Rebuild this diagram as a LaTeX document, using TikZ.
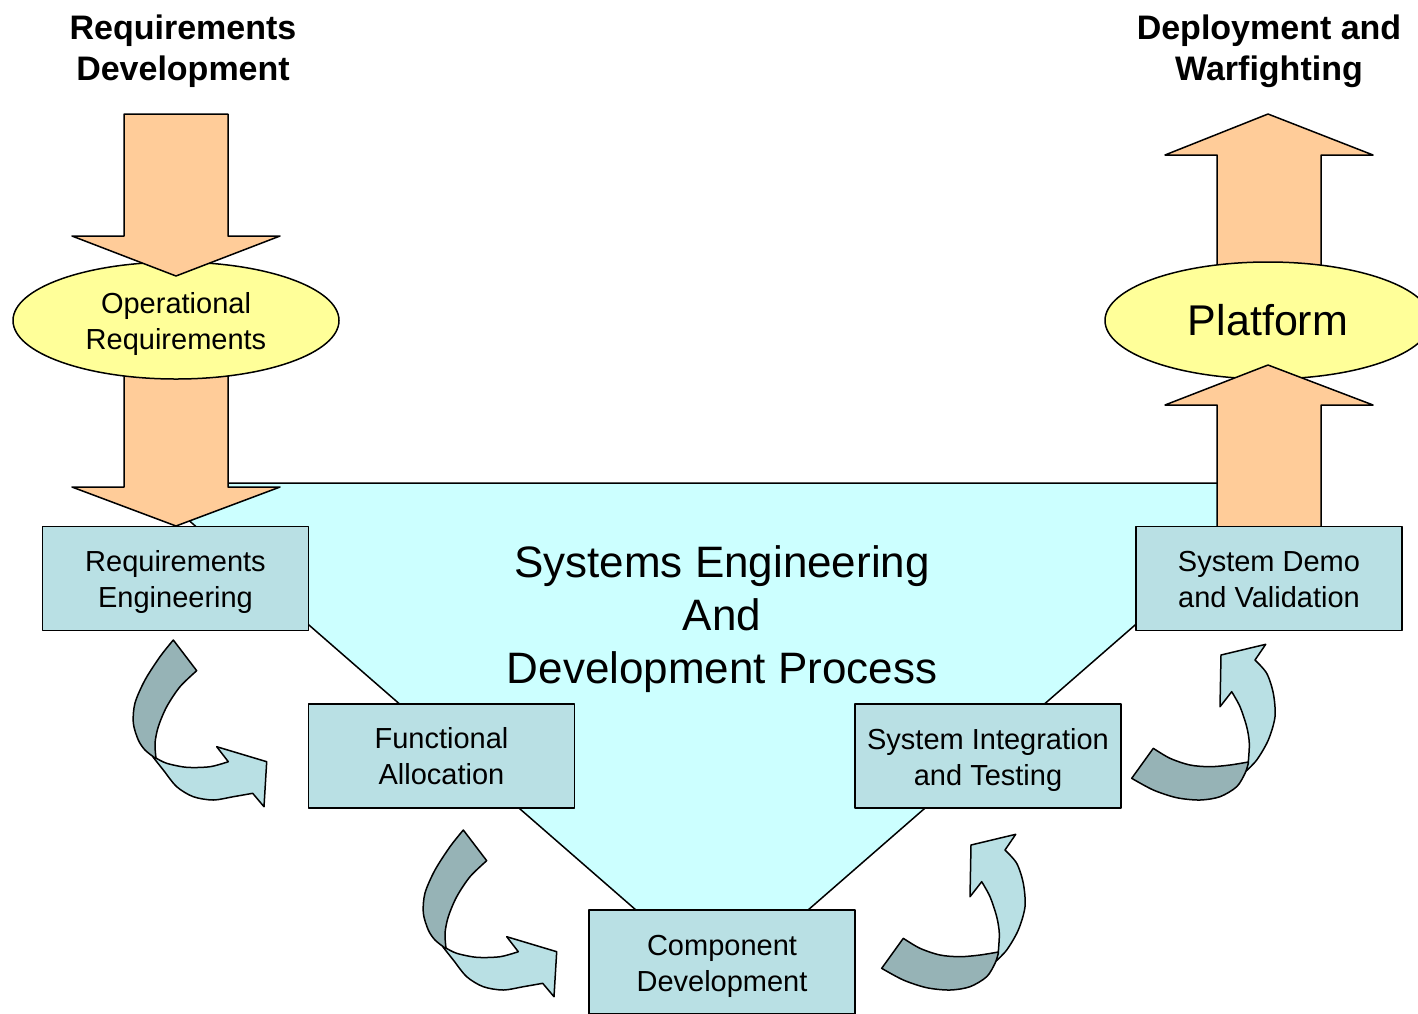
\documentclass[tikz,border=0pt]{standalone}
\usepackage{fontspec}
\setmainfont{Liberation Sans}
\usetikzlibrary{shapes.geometric}
\definecolor{arrowfill}{HTML}{FFCC99}
\definecolor{ellfill}{HTML}{FFFF99}
\definecolor{trifill}{HTML}{CCFFFF}
\definecolor{boxfill}{HTML}{B9E0E4}
\definecolor{darkrib}{HTML}{96B3B6}
\newcommand\loweredtext[2]{\raisebox{-#1}[\height][\depth]{\begin{tabular}{@{}c@{}}#2\end{tabular}}}
\tikzset{
  outline/.style={draw=black, line width=1.5pt, line join=round},
  blockarrow/.style={outline, fill=arrowfill},
  stagebox/.style={outline, fill=boxfill, rectangle, minimum width=266pt, minimum height=104pt,
    inner sep=0pt, align=center, font=\fontsize{29}{36}\selectfont},
  ovalnode/.style={outline, fill=ellfill, ellipse, inner sep=0pt, align=center},
  titletext/.style={align=center, font=\fontsize{34}{41}\selectfont\bfseries},
  ribdark/.style={outline, fill=darkrib},
  riblight/.style={outline, fill=boxfill},
}
\begin{document}
\begin{tikzpicture}[x=1pt,y=-1pt]
\useasboundingbox (0,0) rectangle (1418,1013);
\clip (0,0) rectangle (1418,1013);
% V-shaped process area
\filldraw[outline, fill=trifill] (146,483) -- (1298,483) -- (722,985) -- cycle;
% titles
\node[titletext] (rd) at (183,51) {Requirements\\Development};
\node[titletext] (dw) at (1269,51) {Deployment and\\Warfighting};
% left block arrows and ellipse
\filldraw[blockarrow] (124,320) -- (228,320) -- (228,487) -- (280,487) -- (176,526) -- (72,487) -- (124,487) -- cycle;
\node[ovalnode, minimum width=326pt, minimum height=117pt, font=\fontsize{29}{36}\selectfont] (op) at (176,320.5) {\loweredtext{4pt}{Operational\\Requirements}};
\filldraw[blockarrow] (124,114) -- (228,114) -- (228,236) -- (280,236) -- (176,276) -- (72,236) -- (124,236) -- cycle;
% right block arrows and ellipse
\filldraw[blockarrow] (1268,114) -- (1373,155) -- (1321,155) -- (1321,320) -- (1217,320) -- (1217,155) -- (1165,155) -- cycle;
\node[ovalnode, minimum width=326pt, minimum height=117pt, font=\fontsize{43}{50}\selectfont] (pf) at (1268,320.5) {\loweredtext{5pt}{Platform}};
\filldraw[blockarrow] (1268,365) -- (1373,405) -- (1321,405) -- (1321,527) -- (1217,527) -- (1217,405) -- (1165,405) -- cycle;
% stage boxes
\node[stagebox] (re) at (175.5,578.5) {\loweredtext{4pt}{Requirements\\Engineering}};
\node[stagebox] (fa) at (441.5,756) {\loweredtext{3pt}{Functional\\Allocation}};
\node[stagebox] (cd) at (722,962) {\loweredtext{4pt}{Component\\Development}};
\node[stagebox] (si) at (988,756) {\loweredtext{4pt}{System Integration\\and Testing}};
\node[stagebox] (sd) at (1269,578.5) {\loweredtext{4pt}{System Demo\\and Validation}};
% centre label
\node[align=center, font=\fontsize{44}{53}\selectfont] (se) at (722,619) {Systems Engineering\\And\\Development Process};
% curved ribbon arrows, down-right type
\foreach \dx/\dy in {0/0, 290/190} {
\begin{scope}[shift={(\dx,\dy)}]
\filldraw[riblight] plot[smooth] coordinates {(153,757) (163.3,770) (176.7,786.7) (193.3,796.7) (213.3,800) (233.3,796.7) (252.7,793.3)}
  -- (264,806.7) -- (266.7,761.7) -- (216.7,746.7) -- (228.3,761.7)
  -- plot[smooth] coordinates {(228.3,761.7) (210,766.7) (186.7,767.3) (166.7,763.3) (156,758)} -- cycle;
\filldraw[ribdark] plot[smooth] coordinates {(173.3,640) (160,656.7) (145,680) (135,703) (133.3,723) (138.3,740) (145,750) (155,758)}
  -- plot[smooth] coordinates {(156,758) (155,743.3) (158.3,726.7) (166.7,706.7) (180,686.7) (196.7,670.7)} -- cycle;
\end{scope}
}
% curved ribbon arrows, up-right type
\foreach \dx/\dy in {0/0, 250/-190} {
\begin{scope}[shift={(\dx,\dy)}]
\filldraw[riblight] plot[smooth] coordinates {(995,962) (1006.7,950) (1018.3,930) (1025,906.7) (1023.3,883.3) (1016.7,863.3) (1005,850)}
  -- (1015.7,834.3) -- (971,845) -- (970,896.7) -- (981.7,881.7)
  -- plot[smooth] coordinates {(981.7,881.7) (990,896.7) (996.7,916.7) (999.3,933.3) (998.3,951.7)} -- cycle;
\filldraw[ribdark] plot[smooth] coordinates {(903.3,938.3) (920,948.3) (940,955) (960,956.7) (980,955) (998.3,952)}
  -- plot[smooth] coordinates {(998.3,953.3) (995,963.3) (986.7,976.7) (970,986.7) (950,990) (926.7,987.7) (903.3,980) (881.7,968.3)} -- cycle;
\end{scope}
}
\end{tikzpicture}
\end{document}
